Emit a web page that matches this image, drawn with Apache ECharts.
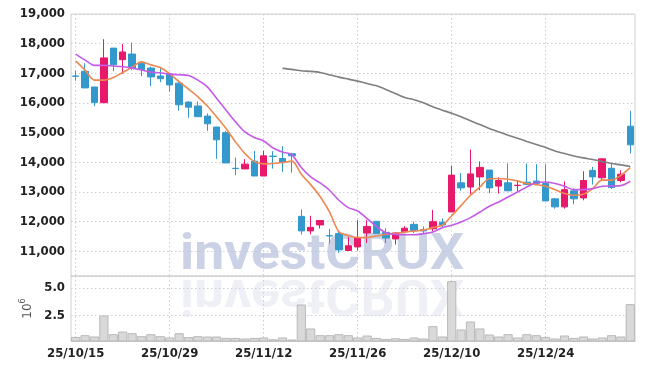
<!DOCTYPE html>
<html><head><meta charset="utf-8">
<script src="https://cdn.jsdelivr.net/npm/echarts@6/dist/echarts.min.js"></script>
<style>html,body{margin:0;padding:0;background:#fff;}#c{width:645px;height:369px;}</style>
</head><body><div id="c"></div>
<script>
const dates = ['25/10/15','25/10/16','25/10/17','25/10/20','25/10/21','25/10/22','25/10/23','25/10/24','25/10/27','25/10/28',
'25/10/29','25/10/30','25/10/31','25/11/03','25/11/04','25/11/05','25/11/06','25/11/07','25/11/10','25/11/11',
'25/11/12','25/11/13','25/11/14','25/11/17','25/11/18','25/11/19','25/11/20','25/11/21','25/11/24','25/11/25',
'25/11/26','25/11/27','25/11/28','25/12/01','25/12/02','25/12/03','25/12/04','25/12/05','25/12/08','25/12/09',
'25/12/10','25/12/11','25/12/12','25/12/15','25/12/16','25/12/17','25/12/18','25/12/19','25/12/22','25/12/23',
'25/12/24','25/12/26','25/12/29','25/12/30','26/01/02','26/01/05','26/01/06','26/01/07','26/01/08','26/01/09'];
const opens = [16910,17070,16540,16010,17850,17460,17650,17340,17180,16910,
16980,16670,16030,15900,15560,15190,15000,13800,13780,14040,
13540,14210,14130,14290,12180,11690,11890,11530,11600,11030,
11150,11620,12010,11640,11420,11660,11910,11730,11760,11980,
12330,13310,13170,13510,13740,13200,13310,13220,13330,13370,
13290,12770,12500,13040,12800,13730,13480,13800,13390,15220];
const closes = [16900,16510,16020,17520,17290,17720,17180,17130,16880,16820,
16610,15940,15860,15540,15300,14760,13980,13790,13940,13540,
14220,14200,13990,14220,11690,11810,12040,11520,11050,11190,
11450,11840,11600,11450,11620,11780,11690,11690,12000,11890,
13570,13140,13610,13830,13140,13390,13040,13230,13260,13290,
12700,12500,13080,12770,13390,13510,14120,13150,13600,14590];
const lows = [16750,16500,15900,16000,17070,16980,17110,16900,16570,16700,
16380,15740,15500,15530,15060,14120,13980,13570,13770,13540,
13540,13790,13680,13650,11570,11580,11770,11260,10950,11020,
11030,11290,11590,11280,11230,11650,11620,11600,11670,11800,
12320,13040,12920,13060,12960,12950,13030,13000,13230,13230,
12700,12440,12440,12590,12720,13250,13370,13100,13330,14300];
const highs = [17090,17340,16540,18150,17860,17990,18040,17380,17230,17200,
17020,16700,16060,16050,15650,15200,15060,14160,14110,14380,
14390,14380,14550,14320,12410,12200,12050,11750,11710,11490,
12050,12050,12030,11780,11640,11850,12000,11840,12400,12110,
13890,13640,14430,14030,13740,13490,13960,13370,13960,13940,
13940,12800,13360,13120,13700,13850,14130,13960,13730,15740];
const ma5 = [17420,17110,16770,16770,16860,17030,17210,17385,17285,17195,
16985,16720,16470,16210,15900,15530,15140,14690,14300,14030,
13950,13960,13995,14040,13600,13250,12850,12330,11660,11530,
11470,11465,11520,11575,11610,11650,11685,11715,11800,11880,
12200,12550,12890,13170,13450,13455,13430,13375,13285,13250,
13195,13080,12950,12890,12925,13115,13400,13400,13565,13825];
const ma10 = [17650,17447,17268,17268,17245,17221,17177,17110,17042,17020,
16975,16952,16930,16772,16546,16154,15760,15365,15028,14838,
14720,14485,14350,14255,13825,13508,13306,13059,12722,12475,
12360,12104,11844,11630,11574,11560,11560,11597,11654,11800,
11878,11990,12137,12327,12519,12665,12833,13002,13170,13318,
13340,13285,13194,13082,13082,13116,13194,13206,13217,13363];
const ma60 = [null,null,null,null,null,null,null,null,null,null,
null,null,null,null,null,null,null,null,null,null,
null,null,17167,17133,17086,17066,17031,16952,16873,16806,
16738,16660,16580,16458,16323,16188,16110,16006,15872,15760,
15658,15535,15400,15277,15142,15028,14916,14814,14703,14602,
14500,14386,14298,14217,14150,14095,14028,13960,13915,13859];
const volumes = [0.55,0.71,0.59,2.5,0.8,1.04,0.89,0.62,0.8,0.62,
0.5,0.89,0.53,0.62,0.59,0.59,0.46,0.46,0.41,0.46,
0.5,0.34,0.5,0.32,3.5,1.32,0.71,0.71,0.8,0.71,
0.5,0.68,0.46,0.37,0.43,0.37,0.5,0.41,1.53,0.59,
5.62,1.23,1.95,1.32,0.77,0.59,0.8,0.5,0.8,0.71,
0.55,0.41,0.68,0.46,0.59,0.41,0.5,0.71,0.59,3.53];

const candleData = dates.map((d, i) => [opens[i], closes[i], lows[i], highs[i]]);
const FONT = '"DejaVu Sans Condensed", "Liberation Sans Narrow", "Roboto", sans-serif';
const gridLine = { show: true, lineStyle: { color: '#c9ccdd', type: [1.5, 2.5], width: 1 } };

const chart = echarts.init(document.getElementById('c'));
chart.setOption({
  animation: false,
  backgroundColor: '#fff',
  grid: [
    { left: 71, right: 10, top: 14, height: 262, show: true, borderColor: '#d0d0d0', borderWidth: 1 },
    { left: 71, right: 10, top: 276, height: 65, show: true, borderColor: '#d0d0d0', borderWidth: 1 }
  ],
  xAxis: [
    { type: 'category', gridIndex: 0, data: dates, boundaryGap: true,
      axisLine: { show: false }, axisTick: { show: false }, axisLabel: { show: false },
      splitLine: Object.assign({ interval: 9, alignWithLabel: true }, gridLine) },
    { type: 'category', gridIndex: 1, data: dates, boundaryGap: true,
      axisLine: { show: true, lineStyle: { color: '#c8c8c8' } }, axisTick: { show: false },
      axisLabel: { interval: 9, color: '#222', fontFamily: FONT, fontWeight: 'bold', fontSize: 13, margin: 6 },
      splitLine: Object.assign({ interval: 9, alignWithLabel: true }, gridLine) }
  ],
  yAxis: [
    { type: 'value', gridIndex: 0, min: 10170, max: 19000, minInterval: 1000, maxInterval: 1000,
      axisLine: { show: false }, axisTick: { show: false },
      axisLabel: { showMinLabel: false, color: '#222', fontFamily: FONT, fontWeight: 'bold', fontSize: 13, margin: 6,
        formatter: v => v.toLocaleString('en-US') },
      splitLine: gridLine },
    { type: 'value', gridIndex: 1, min: 0.18, max: 6.09, minInterval: 2.5, maxInterval: 2.5,
      axisLine: { show: false }, axisTick: { show: false },
      axisLabel: { showMinLabel: false, showMaxLabel: false, color: '#222', fontFamily: FONT, fontWeight: 'bold', fontSize: 13, margin: 6,
        formatter: v => v.toFixed(1) },
      splitLine: gridLine,
      name: '{a|10}{b|6}', nameLocation: 'middle', nameRotate: 90, nameGap: 27,
      nameTextStyle: { rich: { a: { fontSize: 12, color: '#555', fontFamily: 'DejaVu Sans' },
                               b: { fontSize: 8, color: '#555', fontFamily: 'DejaVu Sans', verticalAlign: 'top', padding: [0,0,8,0] } } } }
  ],
  graphic: [
    { type: 'text', x: 180, y: 281, z: 1, silent: true, scaleX: 1.07,
      style: { text: 'investCRUX', font: 'bold 50px Roboto', fill: 'rgba(185,195,222,0.75)', verticalAlign: 'bottom' } },
    { type: 'text', x: 180, y: 267, z: 1, silent: true, scaleX: 1.07, scaleY: -1,
      style: { text: 'investCRUX', font: 'bold 50px Roboto', verticalAlign: 'bottom', fill: 'rgba(205,212,230,0.35)' } }
  ],
  series: [
    { type: 'candlestick', xAxisIndex: 0, yAxisIndex: 0, data: candleData, barWidth: '72%', z: 5,
      itemStyle: { color: '#e8196b', color0: '#3399cc', borderColor: '#e8196b', borderColor0: '#3399cc', borderWidth: 1 } },
    { type: 'line', xAxisIndex: 0, yAxisIndex: 0, data: ma5, symbol: 'none', smooth: 0.3, z: 6,
      lineStyle: { color: '#ee8750', width: 1.6 } },
    { type: 'line', xAxisIndex: 0, yAxisIndex: 0, data: ma10, symbol: 'none', smooth: 0.3, z: 6,
      lineStyle: { color: '#c55ae8', width: 1.6 } },
    { type: 'line', xAxisIndex: 0, yAxisIndex: 0, data: ma60, symbol: 'none', smooth: 0.2, z: 6,
      lineStyle: { color: '#7f7f7f', width: 1.6 } },
    { type: 'bar', xAxisIndex: 1, yAxisIndex: 1, data: volumes, barWidth: '98%', z: 5,
      itemStyle: { color: '#d9d9d9', borderColor: '#b9b9b9', borderWidth: 1 } }
  ]
});
</script></body></html>
